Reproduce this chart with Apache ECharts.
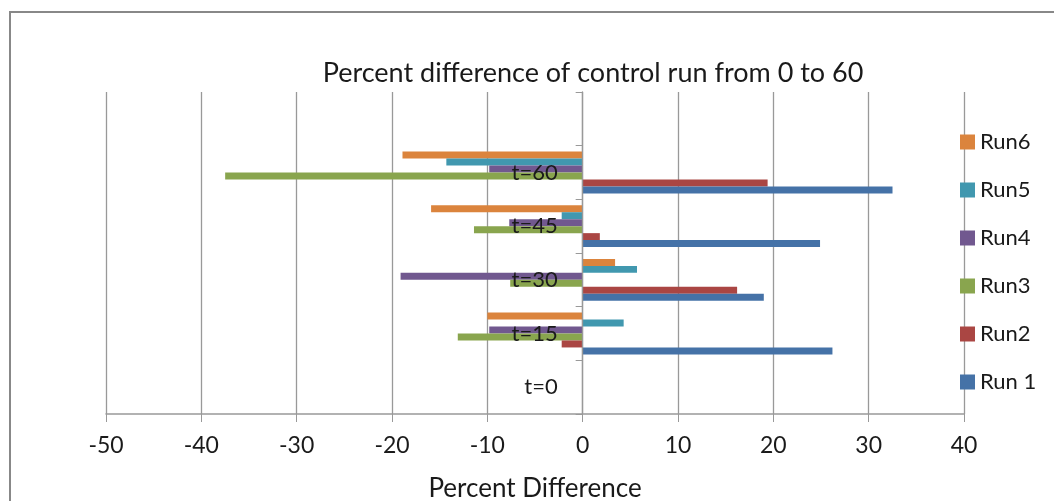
<!DOCTYPE html>
<html>
<head>
<meta charset="utf-8">
<script src="https://cdn.jsdelivr.net/npm/echarts@6/dist/echarts.min.js"></script>
<style>
  html, body { margin: 0; padding: 0; background: #fff; }
  #chart { width: 1054px; height: 501px; }
</style>
</head>
<body>
<div id="chart"></div>
<script>
// Time points (bottom to top); the top row is an empty spacer row
const categories = ['t=0', 't=15', 't=30', 't=45', 't=60', ''];

// Percent difference from the control run, per run
const run1 = [0, 26.2, 19.0, 24.9, 32.5, null];
const run2 = [0, -2.2, 16.2, 1.8, 19.4, null];
const run3 = [0, -13.1, -7.6, -11.4, -37.5, null];
const run4 = [0, -9.8, -19.1, -7.7, -9.8, null];
const run5 = [0, 4.3, 5.7, -2.2, -14.3, null];
const run6 = [0, -10.0, 3.4, -15.9, -18.9, null];

// Listed top-to-bottom within each group (and in the legend)
const seriesNames = ['Run6', 'Run5', 'Run4', 'Run3', 'Run2', 'Run 1'];
const seriesData = [run6, run5, run4, run3, run2, run1];
const seriesColors = ['#DB843D', '#4198AF', '#71588F', '#89A54E', '#AA4643', '#4572A7'];

const xTicks = { min: -50, max: 40, step: 10 };

const FONT = 'Lato, "Open Sans", sans-serif';
const GRID = { left: 106, right: 90, top: 92, bottom: 87 };
const chart = echarts.init(document.getElementById('chart'), null, { renderer: 'canvas' });

// Category labels sit just left of the zero line
const zeroX = GRID.left + (0 - xTicks.min) / (xTicks.max - xTicks.min) * (1054 - GRID.left - GRID.right);
const labelRight = zeroX - 25;

chart.setOption({
  animation: false,
  backgroundColor: '#fff',
  textStyle: { fontFamily: FONT },
  graphic: [
    {
      type: 'rect',
      shape: { x: 10, y: 12, width: 1100, height: 600 },
      style: { fill: 'none', stroke: '#888', lineWidth: 2 },
      silent: true
    },
    {
      type: 'text',
      x: 593, y: 73,
      style: {
        text: 'Percent difference of control run from 0 to 60',
        font: '27px ' + FONT,
        fill: '#1a1a1a',
        align: 'center',
        verticalAlign: 'middle'
      }
    }
  ],
  legend: {
    orient: 'vertical',
    left: 955,
    top: 126,
    itemWidth: 15,
    itemHeight: 15,
    itemGap: 26,
    icon: 'rect',
    data: seriesNames,
    textStyle: { fontSize: 22, color: '#1a1a1a', fontFamily: FONT }
  },
  grid: {
    left: GRID.left, right: GRID.right, top: GRID.top, bottom: GRID.bottom,
    containLabel: false,
    outerBoundsMode: 'none'
  },
  xAxis: {
    type: 'value',
    min: xTicks.min,
    max: xTicks.max,
    interval: xTicks.step,
    name: 'Percent Difference',
    nameLocation: 'middle',
    nameGap: 62,
    nameTextStyle: { fontSize: 26, color: '#1a1a1a', fontFamily: FONT },
    axisLine: { show: true, lineStyle: { color: '#999', width: 1.5 } },
    axisTick: { show: true, length: 8, lineStyle: { color: '#999' } },
    axisLabel: { fontSize: 23, color: '#1a1a1a', margin: 20, fontFamily: FONT },
    splitLine: { show: true, lineStyle: { color: '#999', width: 1.3 } }
  },
  yAxis: {
    type: 'category',
    data: categories,
    axisLine: { show: true, onZero: true, lineStyle: { color: '#999', width: 1.3 } },
    axisTick: { show: true, length: 7, inside: false, lineStyle: { color: '#999' } },
    axisLabel: { fontSize: 22, color: '#1a1a1a', margin: GRID.left - labelRight, fontFamily: FONT },
    splitLine: { show: false },
    z: 5
  },
  series: seriesNames.map((name, i) => ({
    name: name,
    type: 'bar',
    data: seriesData[i],
    barGap: '0%',
    barCategoryGap: '22%',
    itemStyle: { color: seriesColors[i] }
  }))
});
</script>
</body>
</html>
